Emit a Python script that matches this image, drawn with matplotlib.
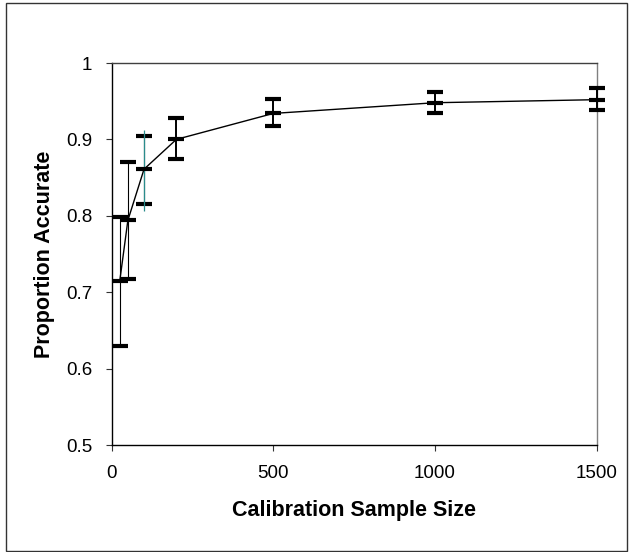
import matplotlib
matplotlib.use("Agg")
import matplotlib.pyplot as plt
from matplotlib.patches import Rectangle
import numpy as np

plt.rcParams['font.family'] = ['Liberation Sans', 'DejaVu Sans']

sample_size = [25, 50, 100, 200, 500, 1000, 1500]
mean_acc = [0.715, 0.794, 0.861, 0.900, 0.934, 0.948, 0.952]
upper_acc = [0.799, 0.871, 0.905, 0.928, 0.953, 0.962, 0.967]
lower_acc = [0.629, 0.717, 0.815, 0.875, 0.917, 0.934, 0.938]
extra_x = [100]
extra_mid = [0.861]
extra_upper = [0.912]
extra_lower = [0.806]

x_ticks = [0, 500, 1000, 1500]
y_ticks = [0.5, 0.6, 0.7, 0.8, 0.9, 1.0]
y_ticklabels = ['0.5', '0.6', '0.7', '0.8', '0.9', '1']

W, H = 629, 552
fig = plt.figure(figsize=(W / 100, H / 100), dpi=100)
ax = fig.add_axes([111.7 / W, 1 - 445 / H, 485 / W, 382 / H])

x = np.array(sample_size)
m = np.array(mean_acc)
up = np.array(upper_acc)
lo = np.array(lower_acc)

ax.plot(x, m, color='black', lw=1.0, zorder=3, clip_on=False)
# thin whiskers for the small samples, heavier ones for the larger samples
for sl, lw in ((slice(0, 3), 0.8), (slice(3, None), 1.4)):
    ax.errorbar(x[sl], m[sl], yerr=[m[sl] - lo[sl], up[sl] - m[sl]], fmt='none',
                ecolor='black', elinewidth=lw, capsize=5.75, capthick=3.0,
                zorder=4, clip_on=False)
em = np.array(extra_mid)
ax.errorbar(extra_x, em, yerr=[em - np.array(extra_lower), np.array(extra_upper) - em],
            fmt='none', ecolor='#2a8c8c', elinewidth=0.9, capsize=0, zorder=4.5)
ax.plot(x, m, linestyle='none', marker='_', ms=11.5, mew=3.0, color='black',
        zorder=5, clip_on=False)

ax.set_xlim(0, 1500)
ax.set_ylim(0.5, 1.0)
ax.set_xticks(x_ticks)
ax.set_yticks(y_ticks)
ax.set_yticklabels(y_ticklabels)
ax.tick_params(axis='both', direction='out', length=4.5, width=0.8,
               color='#333333', labelsize=13.5)
ax.tick_params(axis='x', pad=10)
ax.tick_params(axis='y', pad=9.5)

ax.spines['left'].set_color('black')
ax.spines['bottom'].set_color('black')
ax.spines['top'].set_color('#404040')
ax.spines['right'].set_color('#808080')
for s in ax.spines.values():
    s.set_linewidth(1.0)

ax.set_xlabel('Calibration Sample Size', fontsize=15.5, fontweight='bold', labelpad=13)
ax.set_ylabel('Proportion Accurate', fontsize=15.5, fontweight='bold', labelpad=8)

fig.patches.append(Rectangle((5.5 / W, 1 - 551 / H), (627 - 5.5) / W, (551 - 2.5) / H,
                             transform=fig.transFigure, fill=False,
                             edgecolor='#333333', lw=1.0))

fig.savefig('out.png', dpi=100)
